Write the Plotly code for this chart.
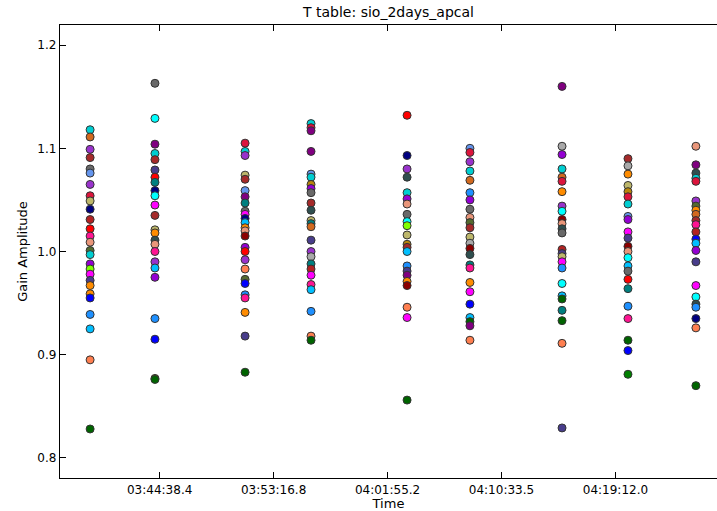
import plotly.graph_objects as go

day = "2000-01-01 "
times = ["03:39:22", "03:44:17", "03:51:07", "03:56:07", "04:03:24",
         "04:08:10", "04:15:09", "04:20:09", "04:25:18"]

gain_t1 = [1.118, 1.111, 1.099, 1.091, 1.080, 1.076, 1.065, 1.054, 1.049, 1.041, 1.031, 1.022, 1.015,
           1.009, 1.001, 0.997, 0.988, 0.983, 0.978, 0.972, 0.967, 0.959, 0.955, 0.939, 0.925, 0.895, 0.828]
color_t1 = ["darkturquoise", "chocolate", "darkorchid", "brown", "dimgray", "cornflowerblue", "darkorchid",
            "crimson", "darkkhaki", "navy", "firebrick", "red", "deeppink", "darksalmon", "darkolivegreen",
            "darkturquoise", "darkviolet", "chartreuse", "magenta", "darkslateblue", "darkorange",
            "darkorange", "blue", "dodgerblue", "deepskyblue", "coral", "darkgreen"]

gain_t2 = [1.163, 1.129, 1.104, 1.095, 1.089, 1.079, 1.072, 1.067, 1.059, 1.054, 1.045, 1.035, 1.021,
           1.018, 1.011, 1.007, 1.000, 0.990, 0.984, 0.975, 0.935, 0.915, 0.877, 0.876]
color_t2 = ["dimgray", "cyan", "purple", "darkturquoise", "brown", "darkslateblue", "red", "teal", "navy",
            "cyan", "magenta", "brown", "darkkhaki", "darkorange", "darkslategray", "darksalmon", "deeppink",
            "darkorchid", "deepskyblue", "darkviolet", "dodgerblue", "blue", "olive", "darkgreen"]

gain_t3 = [1.105, 1.097, 1.093, 1.074, 1.070, 1.059, 1.053, 1.047, 1.039, 1.036, 1.032, 1.028, 1.023,
           1.020, 1.015, 1.004, 1.000, 0.992, 0.983, 0.973, 0.969, 0.958, 0.955, 0.941, 0.918, 0.883]
color_t3 = ["crimson", "darkturquoise", "darkorchid", "darkkhaki", "brown", "cornflowerblue", "purple",
            "teal", "dimgray", "magenta", "navy", "deepskyblue", "darkorange", "darksalmon", "darkred",
            "darkviolet", "red", "darkorchid", "coral", "darkolivegreen", "blue", "dodgerblue",
            "deeppink", "darkorange", "darkslateblue", "darkgreen"]

gain_t4 = [1.124, 1.120, 1.117, 1.097, 1.075, 1.072, 1.065, 1.061, 1.057, 1.047, 1.040, 1.030, 1.027,
           1.024, 1.011, 1.000, 0.995, 0.988, 0.983, 0.977, 0.968, 0.963, 0.942, 0.918, 0.914]
color_t4 = ["darkturquoise", "crimson", "purple", "purple", "cornflowerblue", "darkturquoise",
            "darkgoldenrod", "darkviolet", "dimgray", "brown", "darkslategray", "darkkhaki", "teal",
            "chocolate", "darkslateblue", "darkorchid", "darkgray", "teal", "firebrick", "magenta",
            "deeppink", "deepskyblue", "dodgerblue", "coral", "darkgreen"]

gain_t5 = [1.132, 1.093, 1.080, 1.072, 1.057, 1.051, 1.046, 1.036, 1.029, 1.025, 1.016, 1.007, 1.004,
           1.000, 0.986, 0.981, 0.977, 0.971, 0.967, 0.946, 0.936, 0.856]
color_t5 = ["red", "navy", "darkorchid", "darkslategray", "darkturquoise", "darkviolet", "darksalmon",
            "dimgray", "cyan", "chartreuse", "darkkhaki", "darkgoldenrod", "brown", "deepskyblue",
            "dodgerblue", "darkslateblue", "purple", "darkorange", "darkred", "coral", "magenta", "darkgreen"]

gain_t6 = [1.100, 1.096, 1.087, 1.078, 1.069, 1.057, 1.050, 1.041, 1.033, 1.028, 1.023, 1.014, 1.008,
           1.003, 0.997, 0.987, 0.984, 0.970, 0.961, 0.949, 0.936, 0.932, 0.928, 0.914]
color_t6 = ["cornflowerblue", "crimson", "darkorchid", "darkturquoise", "chocolate", "dodgerblue",
            "darkviolet", "dimgray", "darksalmon", "darkolivegreen", "brown", "darkkhaki", "darkgray",
            "darkred", "darkslategray", "teal", "deeppink", "darkorange", "magenta", "blue",
            "deepskyblue", "darkgreen", "purple", "coral"]

gain_t7 = [1.160, 1.102, 1.094, 1.080, 1.072, 1.068, 1.058, 1.044, 1.039, 1.031, 1.027, 1.022, 1.018,
           1.002, 0.998, 0.995, 0.990, 0.984, 0.969, 0.957, 0.954, 0.943, 0.933, 0.911, 0.829]
color_t7 = ["purple", "darkgray", "darkviolet", "darkturquoise", "chocolate", "crimson", "darkorange",
            "darkorchid", "cyan", "darkred", "darksalmon", "darkslategray", "dimgray", "firebrick",
            "darkslateblue", "darkkhaki", "magenta", "dodgerblue", "cyan", "deepskyblue", "darkgreen",
            "teal", "darkgreen", "coral", "darkslateblue"]

gain_t8 = [1.090, 1.083, 1.075, 1.064, 1.058, 1.053, 1.046, 1.034, 1.031, 1.019, 1.013, 1.005, 1.000,
           0.994, 0.986, 0.981, 0.973, 0.964, 0.947, 0.935, 0.914, 0.904, 0.881]
color_t8 = ["brown", "darkgray", "darkorange", "darkkhaki", "darkgoldenrod", "crimson", "darkturquoise",
            "cornflowerblue", "darkviolet", "magenta", "darkslateblue", "darkred", "darksalmon", "cyan",
            "deepskyblue", "dimgray", "red", "teal", "dodgerblue", "deeppink", "darkgreen", "blue", "green"]

gain_t9 = [1.102, 1.084, 1.076, 1.071, 1.068, 1.049, 1.044, 1.040, 1.036, 1.030, 1.026, 1.019, 1.012,
           1.008, 1.001, 0.990, 0.967, 0.956, 0.949, 0.946, 0.935, 0.926, 0.870]
color_t9 = ["darksalmon", "purple", "darkslategray", "darkturquoise", "crimson", "darkorchid",
            "darkolivegreen", "darkorange", "chocolate", "brown", "deeppink", "firebrick", "blue",
            "deepskyblue", "darkviolet", "darkslateblue", "magenta", "cyan", "darkslategray",
            "dodgerblue", "navy", "coral", "darkgreen"]

gains = [gain_t1, gain_t2, gain_t3, gain_t4, gain_t5, gain_t6, gain_t7, gain_t8, gain_t9]
colors = [color_t1, color_t2, color_t3, color_t4, color_t5, color_t6, color_t7, color_t8, color_t9]

tick_times = ["03:44:38.4", "03:53:16.8", "04:01:55.2", "04:10:33.5", "04:19:12.0"]
y_ticks = [0.8, 0.9, 1.0, 1.1, 1.2]

fig = go.Figure()
for t, g, c in zip(times, gains, colors):
    fig.add_trace(go.Scatter(
        x=[day + t] * len(g), y=g, mode="markers",
        marker=dict(size=8, color=c, line=dict(color="#333333", width=1)),
        showlegend=False, hoverinfo="x+y"))

font = "DejaVu Sans, sans-serif"
fig.update_layout(
    width=717, height=511,
    margin=dict(l=60, r=0, t=25, b=33),
    paper_bgcolor="white", plot_bgcolor="white",
    font=dict(family=font, size=12, color="black"),
    title=dict(text="T table: sio_2days_apcal", xref="paper", x=0.5, xanchor="center",
               yref="container", y=0.976, yanchor="middle", font=dict(size=14, family=font)),
    xaxis=dict(
        type="date", automargin=False,
        range=[day + "03:37:05", day + "04:26:54"],
        tickvals=[day + t for t in tick_times], ticktext=tick_times,
        ticks="inside", ticklen=6, tickcolor="black", tickwidth=1,
        showline=True, linecolor="black", linewidth=1.3, mirror="ticks",
        showgrid=False, zeroline=False,
        title=dict(text="Time", standoff=2, font=dict(size=13)),
    ),
    yaxis=dict(
        automargin=False,
        range=[0.7805, 1.2195],
        tickvals=y_ticks, ticktext=[str(v) for v in y_ticks],
        ticks="inside", ticklen=6, tickcolor="black", tickwidth=1,
        showline=True, linecolor="black", linewidth=1.3,
        showgrid=False, zeroline=False,
        title=dict(text="Gain Amplitude", standoff=6, font=dict(size=13)),
    ),
)

fig.write_html("out.html", config={"displayModeBar": False},
               post_script="document.body.style.margin='0px';document.body.style.overflow='hidden';")
